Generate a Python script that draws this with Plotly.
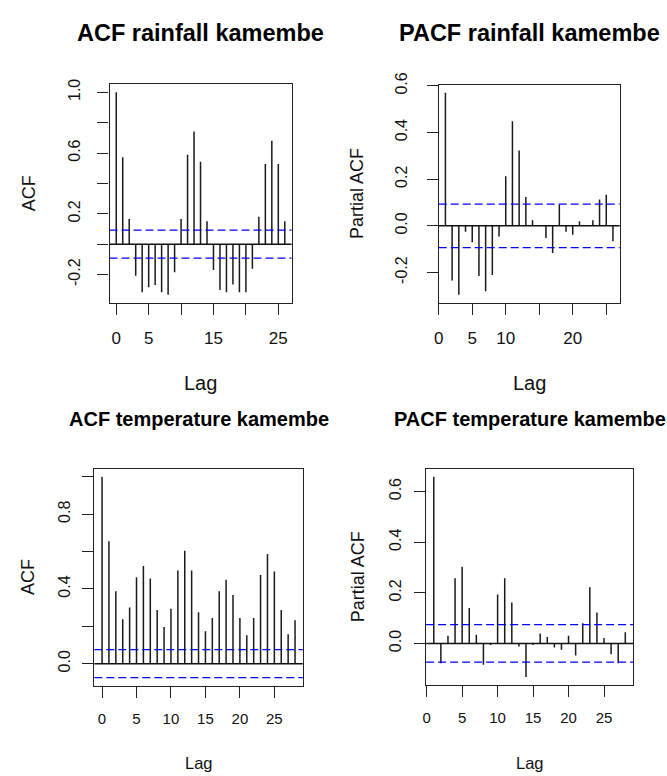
import plotly.graph_objects as go

# ---------------- data ----------------
lags_acf_rain = list(range(0, 27))
acf_rain = [1.0, 0.573, 0.166, -0.207, -0.317, -0.284, -0.269, -0.317, -0.332, -0.185,
            0.166, 0.588, 0.741, 0.543, 0.151, -0.170, -0.302, -0.317, -0.265, -0.317,
            -0.317, -0.162, 0.181, 0.528, 0.681, 0.528, 0.151]
ci_acf_rain = 0.092

lags_pacf_rain = list(range(1, 27))
pacf_rain = [0.571, -0.234, -0.295, -0.025, -0.070, -0.215, -0.280, -0.211, -0.046, 0.213,
             0.448, 0.323, 0.124, 0.024, 0.002, -0.052, -0.116, 0.092, -0.025, -0.038,
             0.020, 0.002, 0.024, 0.113, 0.133, -0.066]
ci_pacf_rain = 0.093

lags_acf_temp = list(range(0, 29))
acf_temp = [1.0, 0.655, 0.388, 0.238, 0.301, 0.462, 0.523, 0.456, 0.287, 0.196,
            0.294, 0.499, 0.604, 0.499, 0.275, 0.174, 0.245, 0.388, 0.449, 0.368,
            0.245, 0.152, 0.245, 0.474, 0.587, 0.493, 0.287, 0.157, 0.233]
ci_acf_temp = 0.075

lags_pacf_temp = list(range(1, 29))
pacf_temp = [0.658, -0.078, 0.030, 0.257, 0.303, 0.140, 0.034, -0.084, -0.006, 0.193,
             0.257, 0.162, -0.012, -0.133, -0.006, 0.039, 0.025, -0.016, -0.025, 0.030,
             -0.048, 0.080, 0.222, 0.122, 0.021, -0.043, -0.078, 0.044]
ci_pacf_temp = 0.074

titles = ["ACF rainfall kamembe", "PACF rainfall kamembe",
          "ACF temperature kamembe", "PACF temperature kamembe"]
ytitles = ["ACF", "Partial ACF", "ACF", "Partial ACF"]
xtitle = "Lag"

x_tickvals = [0, 5, 10, 15, 20, 25]
x_ticktext = [["0", "5", "", "15", "", "25"],
              ["0", "5", "10", "", "20", ""],
              ["0", "5", "10", "15", "20", "25"],
              ["0", "5", "10", "15", "20", "25"]]
y_tickvals = [[-0.2, 0.0, 0.2, 0.4, 0.6, 0.8, 1.0],
              [-0.2, 0.0, 0.2, 0.4, 0.6],
              [0.0, 0.2, 0.4, 0.6, 0.8, 1.0],
              [0.0, 0.2, 0.4, 0.6]]
y_ticktext = [["-0.2", "", "0.2", "", "0.6", "", "1.0"],
              ["-0.2", "0.0", "0.2", "0.4", "0.6"],
              ["0.0", "", "0.4", "", "0.8", ""],
              ["0.0", "0.2", "0.4", "0.6"]]

panels = [(lags_acf_rain, acf_rain, ci_acf_rain),
          (lags_pacf_rain, pacf_rain, ci_pacf_rain),
          (lags_acf_temp, acf_temp, ci_acf_temp),
          (lags_pacf_temp, pacf_temp, ci_pacf_temp)]

# ---------------- layout geometry (pixels) ----------------
W, H = 667, 776
boxes = [(105.3, 288.7, 73.3, 295.3),
         (437.0, 619.3, 73.7, 295.3),
         (90.0, 300.0, 464.0, 684.3),
         (424.3, 632.7, 464.0, 683.7)]
title_y = [21.7, 21.7, 413, 413]
title_size = [23.5, 23.5, 20, 20]
tick_size = [17, 17, 15, 15]
lag_y = [377, 377, 763, 763]
lag_size = [20, 20, 16.5, 16.5]
ytitle_x = [25, 354, 23, 356]
ylab_standoff = [11, 13, 6, 7]
xlab_standoff = [9, 9, 8, 8]
font_family = "Liberation Sans, Arial, sans-serif"

fig = go.Figure()
layout = dict(width=W, height=H, margin=dict(l=0, r=0, t=0, b=0),
              paper_bgcolor="white", plot_bgcolor="white", showlegend=False)
annotations = []
shapes = []


def rng(vals, pad=0.04):
    lo, hi = min(vals), max(vals)
    d = (hi - lo) * pad
    return [lo - d, hi + d]


for i, (lags, vals, ci) in enumerate(panels):
    n = i + 1
    xa = "x" if n == 1 else f"x{n}"
    ya = "y" if n == 1 else f"y{n}"
    xs, ys = [], []
    for l, v in zip(lags, vals):
        xs += [l, l, None]
        ys += [0, v, None]
    fig.add_trace(go.Scatter(x=xs, y=ys, mode="lines", xaxis=xa, yaxis=ya,
                             line=dict(color="#1a1a1a", width=1.5),
                             hoverinfo="skip"))
    x0, x1, y0, y1 = boxes[i]
    xr = rng(lags)
    yr = rng(list(vals) + [ci, -ci])
    axis_common = dict(showline=True, linecolor="#222", linewidth=1.2, mirror=True,
                       ticks="outside", ticklen=11, tickwidth=1.2, tickcolor="#222",
                       showgrid=False, zeroline=False,
                       tickfont=dict(family=font_family, size=tick_size[i], color="#111"))
    layout[f"xaxis{'' if n == 1 else n}"] = dict(
        axis_common, domain=[x0 / W, x1 / W], range=xr, anchor=ya,
        tickvals=x_tickvals, ticktext=x_ticktext[i],
        ticklabelstandoff=xlab_standoff[i])
    layout[f"yaxis{'' if n == 1 else n}"] = dict(
        axis_common, domain=[1 - y1 / H, 1 - y0 / H], range=yr, anchor=xa,
        tickvals=y_tickvals[i], ticktext=y_ticktext[i], tickangle=-90,
        ticklabelstandoff=ylab_standoff[i],
        tickfont=dict(family=font_family, size=16, color="#111"))
    # zero line and confidence bands
    shapes.append(dict(type="line", xref=f"{xa} domain", yref=ya, x0=0, x1=1, y0=0, y1=0,
                       line=dict(color="#111", width=1.5)))
    for c in (ci, -ci):
        shapes.append(dict(type="line", xref=f"{xa} domain", yref=ya, x0=0, x1=1, y0=c, y1=c,
                           line=dict(color="#0000ff", width=1.3, dash="8px,4px")))
    cx = (x0 + x1) / 2 / W
    annotations.append(dict(text=f"<b>{titles[i]}</b>", xref="paper", yref="paper",
                            x=cx, y=1 - title_y[i] / H, showarrow=False,
                            xanchor="center", yanchor="middle",
                            font=dict(family=font_family, size=title_size[i], color="#000")))
    annotations.append(dict(text=xtitle, xref="paper", yref="paper",
                            x=cx, y=1 - lag_y[i] / H, showarrow=False,
                            xanchor="center", yanchor="middle",
                            font=dict(family=font_family, size=lag_size[i], color="#111")))
    annotations.append(dict(text=ytitles[i], xref="paper", yref="paper",
                            x=ytitle_x[i] / W, y=1 - (y0 + y1) / 2 / H, showarrow=False,
                            textangle=-90, xanchor="center", yanchor="middle",
                            font=dict(family=font_family, size=18, color="#111")))

layout["annotations"] = annotations
layout["shapes"] = shapes
fig.update_layout(**layout)
fig.write_html("out.html",
               config={"displayModeBar": False},
               post_script="document.body.style.margin='0';document.body.style.overflow='hidden';")
